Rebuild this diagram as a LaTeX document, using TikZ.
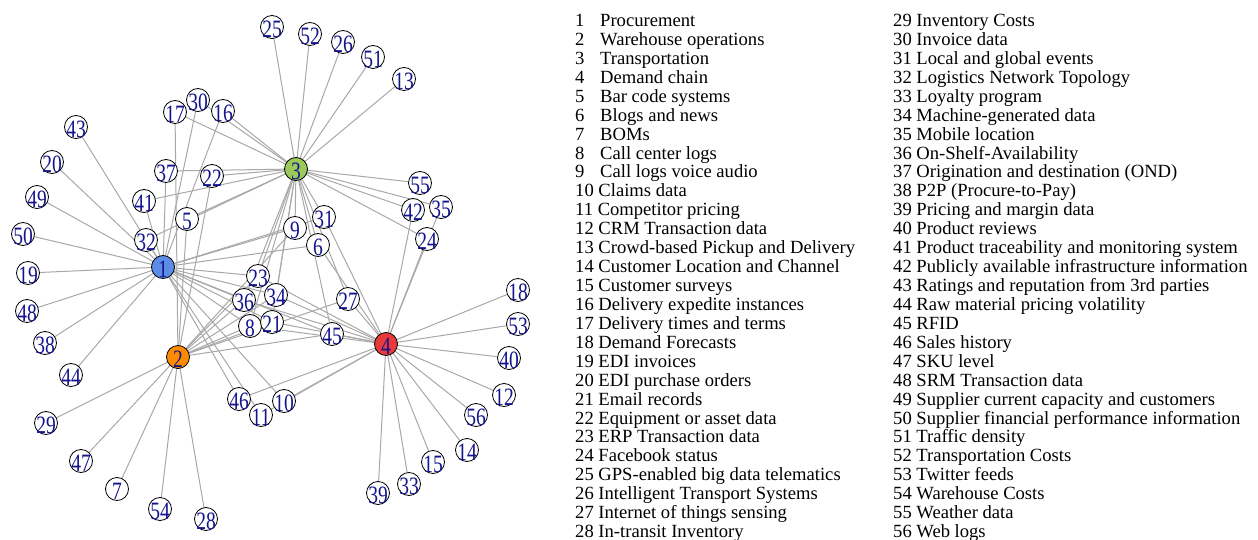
\documentclass[tikz,border=0pt]{standalone}
\usepackage{fontspec}
\setmainfont{Liberation Serif}
\usetikzlibrary{backgrounds}
\definecolor{labelblue}{HTML}{14148F}
\definecolor{edgegray}{HTML}{A8A8A8}
\definecolor{hubA}{HTML}{5B8DE6}
\definecolor{hubB}{HTML}{FF8C00}
\definecolor{hubC}{HTML}{9BC95A}
\definecolor{hubD}{HTML}{E8393B}
\newcommand\vtxtext[1]{\scalebox{1}[1.28]{#1}}
\tikzset{
  vlabel/.style={inner sep=0pt, font=\fontsize{19.5}{19.5}\selectfont, text=labelblue, yshift=-2pt},
  vtx/.style={circle, draw=black, line width=0.8pt, fill=white, minimum size=23pt, inner sep=0pt,
              label={[vlabel]center:\vtxtext{#1}}},
  link/.style={draw=edgegray, line width=1pt},
  legtext/.style={anchor=base west, inner sep=0pt, font=\fontsize{18.6}{19}\selectfont},
}
\begin{document}
\begin{tikzpicture}[x=1pt,y=-1pt]
\useasboundingbox (0,0) rectangle (1258,540);

% data source vertices
\foreach \n/\x/\y in {
  5/187/219, 6/318/245, 7/117/489, 8/250/326, 9/295/228, 10/284/401, 11/261/415,
  12/504/395, 13/404/79, 14/467/450, 15/433/462, 16/223/111, 17/175/112, 18/518/290,
  19/28/273, 20/52/162, 21/272/322, 22/212/176, 23/258/276, 24/427/239, 25/272/27,
  26/343/42, 27/348/299, 28/206/519, 29/46/423, 30/198/100, 31/324/217, 32/146/240,
  33/409/484, 34/276/295, 35/441/207, 36/244/300, 37/166/171, 38/45/343, 39/378/493,
  40/509/358, 41/144/201, 42/413/210, 43/76/127, 44/71/375, 45/332/334, 46/239/399,
  47/81/461, 48/27/311, 49/37/197, 50/23/234, 51/373/57, 52/310/34, 53/518/324,
  54/160/509, 55/420/183, 56/476/415}
  \node[vtx=\n] (n\n) at (\x,\y) {};

% supply chain function hubs
\node[vtx=1, fill=hubA] (n1) at (163,267) {};
\node[vtx=2, fill=hubB] (n2) at (178,357) {};
\node[vtx=3, fill=hubC] (n3) at (296,169) {};
\node[vtx=4, fill=hubD] (n4) at (386,344) {};

% links between hubs and data sources
\begin{pgfonlayer}{background}
\foreach \k in {43,20,49,50,19,48,38,44,32,41,37,16,30,9,6,31,23,36,8,34,21,45,10,46,11}
  \draw[link] (n1.center) -- (n\k.center);
\foreach \k in {29,47,7,54,28,5,22,17,36,8,34,21,23,27,45,9}
  \draw[link] (n2.center) -- (n\k.center);
\foreach \k in {25,52,26,51,13,55,42,35,24,17,16,30,37,22,41,32,5,9,31,6,23,34,36,8,21,27,45}
  \draw[link] (n3.center) -- (n\k.center);
\foreach \k in {18,53,40,12,56,14,15,33,39,42,35,24,6,31,27,45,34,21,36,8,10,46,11,23}
  \draw[link] (n4.center) -- (n\k.center);
\end{pgfonlayer}

% legend, first column
\foreach \r/\t in {1/Procurement, 2/Warehouse operations, 3/Transportation, 4/Demand chain,
  5/Bar code systems, 6/Blogs and news, 7/BOMs, 8/Call center logs, 9/Call logs voice audio}{
  \node[legtext] (ln\r) at (575,{26.5+(\r-1)*18.93}) {\r};
  \node[legtext] (lt\r) at (600,{26.5+(\r-1)*18.93}) {\t};
}
\foreach \r/\t in {10/Claims data, 11/Competitor pricing, 12/CRM Transaction data,
  13/Crowd-based Pickup and Delivery, 14/Customer Location and Channel, 15/Customer surveys,
  16/Delivery expedite instances, 17/Delivery times and terms, 18/Demand Forecasts,
  19/EDI invoices, 20/EDI purchase orders, 21/Email records, 22/Equipment or asset data,
  23/ERP Transaction data, 24/Facebook status, 25/GPS-enabled big data telematics,
  26/Intelligent Transport Systems, 27/Internet of things sensing, 28/In-transit Inventory}
  \node[legtext] (lt\r) at (575,{26.5+(\r-1)*18.93}) {\r\ \t};

% legend, second column
\foreach \r/\t in {29/Inventory Costs, 30/Invoice data, 31/Local and global events,
  32/Logistics Network Topology, 33/Loyalty program, 34/Machine-generated data,
  35/Mobile location, 36/On-Shelf-Availability, 37/Origination and destination (OND),
  38/P2P (Procure-to-Pay), 39/Pricing and margin data, 40/Product reviews,
  41/Product traceability and monitoring system, 42/Publicly available infrastructure information,
  43/Ratings and reputation from 3rd parties, 44/Raw material pricing volatility, 45/RFID,
  46/Sales history, 47/SKU level, 48/SRM Transaction data,
  49/Supplier current capacity and customers, 50/Supplier financial performance information,
  51/Traffic density, 52/Transportation Costs, 53/Twitter feeds, 54/Warehouse Costs,
  55/Weather data, 56/Web logs}
  \node[legtext] (lt\r) at (893,{26.5+(\r-29)*18.93}) {\r\ \t};
\end{tikzpicture}
\end{document}
